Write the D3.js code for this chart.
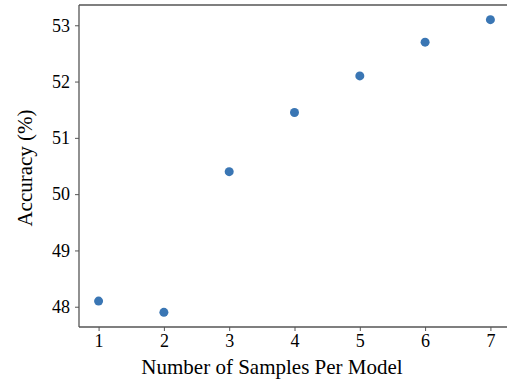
<!DOCTYPE html>
<html>
<head>
<meta charset="utf-8">
<script src="https://cdn.jsdelivr.net/npm/d3@7"></script>
<style>
  body { margin: 0; background: #fff; overflow: hidden; }
  text { font-family: "Liberation Serif", "DejaVu Serif", serif; fill: #000; }
</style>
</head>
<body>
<div id="chart"></div>
<script>
var samples = [1, 2, 3, 4, 5, 6, 7];
var accuracy = [48.1, 47.9, 50.4, 51.45, 52.1, 52.7, 53.1];
var xTicks = [1, 2, 3, 4, 5, 6, 7];
var yTicks = [48, 49, 50, 51, 52, 53];

var margin = {top: 5, right: -3, bottom: 54, left: 79},
    width = 507 - margin.left - margin.right,
    height = 381 - margin.top - margin.bottom;

var svg = d3.select("#chart").append("svg")
    .attr("width", 507)
    .attr("height", 381)
    .style("display", "block");

var g = svg.append("g")
    .attr("transform", "translate(" + margin.left + "," + margin.top + ")");

var x = d3.scaleLinear().domain([0.7, 7.3]).range([0, width]);
var y = d3.scaleLinear().domain([47.64, 53.36]).range([height, 0]);

var axisColor = "#555";

var xAxis = g.append("g")
    .attr("transform", "translate(0," + height + ")")
    .call(d3.axisBottom(x).tickValues(xTicks).tickSize(4).tickSizeOuter(0).tickPadding(3).tickFormat(d3.format("d")));

var yAxis = g.append("g")
    .call(d3.axisLeft(y).tickValues(yTicks).tickSize(4).tickSizeOuter(0).tickPadding(5).tickFormat(d3.format("d")));

[xAxis, yAxis].forEach(function(a) {
    a.attr("font-family", null).attr("font-size", null);
    a.selectAll(".tick line").attr("stroke", axisColor).attr("stroke-width", 1);
    a.selectAll(".tick text").style("font-size", "18px");
    a.select(".domain").remove();
});

// spines: left, bottom, top (right one falls outside the picture)
var spines = g.append("g").attr("stroke", axisColor).attr("stroke-width", 1.3);
spines.append("line").attr("x1", 0).attr("x2", 0).attr("y1", 0).attr("y2", height);
spines.append("line").attr("x1", 0).attr("x2", width).attr("y1", height).attr("y2", height);
spines.append("line").attr("x1", 0).attr("x2", width).attr("y1", 0).attr("y2", 0);

g.selectAll("circle").data(samples).enter()
    .append("circle")
    .attr("cx", function(d) { return x(d); })
    .attr("cy", function(d, i) { return y(accuracy[i]); })
    .attr("r", 4.5)
    .attr("fill", "#3a76b4");

svg.append("text")
    .attr("x", 272)
    .attr("y", 374)
    .attr("text-anchor", "middle")
    .style("font-size", "21px")
    .text("Number of Samples Per Model");

svg.append("text")
    .attr("transform", "translate(32," + (margin.top + height / 2 + 2) + ") rotate(-90)")
    .attr("text-anchor", "middle")
    .style("font-size", "21px")
    .text("Accuracy (%)");
</script>
</body>
</html>
